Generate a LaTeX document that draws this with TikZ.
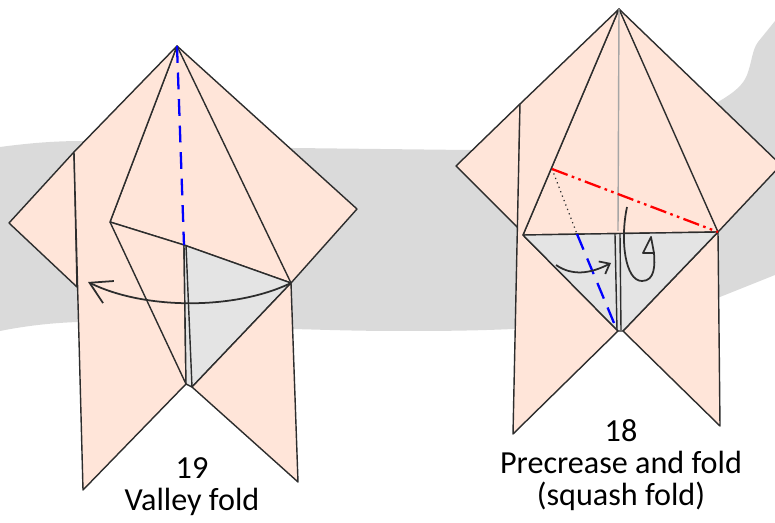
\documentclass[tikz,border=0pt]{standalone}
\usepackage{fontspec}
\setmainfont{Carlito}
\usetikzlibrary{arrows.meta}

\definecolor{paper}{RGB}{255,229,217}
\definecolor{backgray}{RGB}{218,218,218}
\definecolor{undergray}{RGB}{228,228,228}
\definecolor{edgecol}{RGB}{45,45,45}

\begin{document}
\begin{tikzpicture}[
    x=0.02cm, y=-0.02cm,
    flap/.style={fill=paper, draw=edgecol, line width=0.8pt, line join=round},
    under/.style={fill=undergray, draw=edgecol, line width=0.8pt, line join=round},
    edge/.style={draw=edgecol, line width=0.8pt},
    valley/.style={draw=blue, line width=1.3pt, dash pattern=on 9.6pt off 5.5pt},
    mountain/.style={draw=red, line width=1.3pt, dash pattern=on 9.5pt off 2.5pt on 1.5pt off 2.5pt on 1.5pt off 2.5pt},
    hint/.style={draw=edgecol, line width=1pt},
    caption/.style={align=center, font=\fontsize{18.3}{18.2}\selectfont, text=black, inner sep=0pt}
]
\useasboundingbox (0,0) rectangle (775,523);

% background band
\fill[backgray] (0,147) .. controls (30,143) and (55,141) .. (83,141)
    -- (293,148) -- (467,150) -- (600,150) -- (718,102)
    .. controls (735,92) and (743,85) .. (747,75)
    .. controls (752,62) and (752,50) .. (758,42)
    -- (775,21)
    -- (775,275) -- (720,297)
    -- (513,329) .. controls (470,331) and (430,331) .. (400,331)
    .. controls (360,331) and (330,330) .. (293,329) -- (78,322)
    .. controls (50,323) and (25,326) .. (0,331) -- cycle;

% step 19
\coordinate (lTop) at (177,46);
\coordinate (lRight) at (357,209);
\coordinate (lLeft) at (9,223);
\coordinate (lJoin) at (74,152);
\coordinate (lCrease) at (110,222);
\coordinate (lWing) at (291,283);
\coordinate (lMid) at (184,245);
\coordinate (lNotchA) at (186,384);
\coordinate (lNotchB) at (192,387);

\draw[flap] (lJoin) -- (lLeft) -- (77,287) -- cycle;
\draw[flap] (lTop) -- (lRight) -- (lWing) -- (lMid) -- (lCrease) -- cycle;
\draw[flap] (lTop) -- (lJoin) -- (83,490) -- (lNotchA) -- (lMid) -- (lCrease) -- cycle;
\draw[under] (lMid) -- (lWing) -- (lNotchB) -- (lNotchA) -- cycle;
\draw[flap] (lWing) -- (298,482) -- (lNotchB) -- cycle;
\draw[edge] (lCrease) -- (lNotchA);
\draw[edge] (lTop) -- (lWing);
\draw[edge] (186,245) -- (lNotchB);
\draw[valley] (lTop) -- (lMid);
\draw[hint, -{Straight Barb[length=12pt, width=14pt]}] (lWing)
    .. controls (235,310) and (145,310) .. (88,282);

% step 18
\coordinate (rTop) at (619,9);
\coordinate (rRight) at (781,165);
\coordinate (rLeft) at (456,166);
\coordinate (rJoin) at (520,104);
\coordinate (rFoldA) at (523,235);
\coordinate (rFoldB) at (718,232);
\coordinate (rCrease) at (552,169);
\coordinate (rDot) at (577,234);
\coordinate (rNotchA) at (618,331);
\coordinate (rNotchB) at (623,331);

\draw[flap] (rJoin) -- (rLeft) -- (518,228) -- cycle;
\draw[flap] (rTop) -- (rRight) -- (rFoldB) -- (rFoldA) -- cycle;
\draw[flap] (rTop) -- (rJoin) -- (513,434) -- (rNotchA) -- (rFoldA) -- cycle;
\draw[flap] (rFoldB) -- (720,426) -- (rNotchB) -- cycle;
\draw[under] (rFoldA) -- (rFoldB) -- (rNotchB) -- (rNotchA) -- cycle;
\draw[edge] (rTop) -- (rFoldB);
\draw[edge] (615,234) -- (617,330);
\draw[edge] (620,234) -- (621,330);
\draw[gray!70, line width=0.8pt] (rTop) -- (618,231);
\draw[dotted, edgecol, line width=0.7pt] (rCrease) -- (rDot);
\draw[valley] (rDot) -- (614,323);
\draw[mountain] (rCrease) -- (rFoldB);
\draw[hint, -{Straight Barb[length=5pt, width=8pt]}] (556,265)
    .. controls (572,276) and (590,274) .. (611,263);
\draw[hint, line join=round] (627,207) .. controls (620,240) and (625,281) .. (642,281)
    .. controls (655,281) and (655,265) .. (654,253) -- (643,253) -- (651,237) -- (654,253);

% captions
\node[caption] (lCap) at (192,487) {19\\Valley fold};
\node[caption] (rCap) at (621,465) {18\\Precrease and fold\\(squash fold)};
\end{tikzpicture}
\end{document}
